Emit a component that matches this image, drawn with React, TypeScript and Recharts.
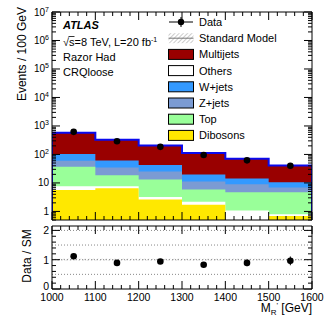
import React from 'react';
import {
  ComposedChart,
  Area,
  Line,
  Scatter,
  XAxis,
  YAxis,
  ErrorBar,
  ReferenceLine,
  ReferenceArea,
  Legend,
} from 'recharts';

const FONT = '"Liberation Sans", Arial, Helvetica, sans-serif';

// ---------- data ----------
const binEdges = [1000, 1100, 1200, 1300, 1400, 1500, 1600];
const binCenters = [1050, 1150, 1250, 1350, 1450, 1550];

const dibosons = [5.6, 6.5, 2.6, 1.7, 0, 0.69];
const others = [2.1, 1.2, 0.6, 0.5, 1.08, 0.11];
const topQuark = [29.3, 10.9, 9.9, 3.7, 3.62, 3.9];
const zJets = [23, 16.4, 11.9, 5.3, 4.3, 2.2];
const wJets = [44, 26, 18, 8.4, 5.2, 3.7];
const multijets = [474, 269, 162, 93.4, 55.8, 30.4];

const dataValues = [620, 290, 185, 96, 62, 40];
const dataErrors = [25, 17, 14, 10, 8, 6.3];
const ratioValues = [1.12, 0.89, 0.94, 0.83, 0.89, 0.96];
const ratioErrors = [0.05, 0.06, 0.07, 0.09, 0.11, 0.15];

const xLabelTicks = [1000, 1100, 1200, 1300, 1400, 1500, 1600];
const yLabelTicks = [1, 10, 100, 1000, 10000, 100000, 1000000, 10000000];
const ratioLabelTicks = [0, 1, 2];
const ratioGridLines = [0.5, 1, 1.5, 2];

const legendNames = ['Data', 'Standard Model', 'Multijets', 'Others', 'W+jets', 'Z+jets', 'Top', 'Dibosons'];

const Y_MIN = 0.5;
const Y_MAX = 1e7;
const R_MIN = 0;
const R_MAX = 2.15;

// bottom -> top stacking order
const stack = [
  { key: 'dibosons', name: 'Dibosons', values: dibosons, color: '#ffe800' },
  { key: 'others', name: 'Others', values: others, color: '#ffffff' },
  { key: 'top', name: 'Top', values: topQuark, color: '#99ff99' },
  { key: 'zjets', name: 'Z+jets', values: zJets, color: '#7b9bd3' },
  { key: 'wjets', name: 'W+jets', values: wJets, color: '#3399ff' },
  { key: 'multijets', name: 'Multijets', values: multijets, color: '#990000' },
];

const cumulative: Record<string, number[]> = {};
let running = binCenters.map(() => 0);
for (const s of stack) {
  running = running.map((r, i) => r + s.values[i]);
  cumulative[s.key] = running;
}
const total = running;
const lastBin = binCenters.length - 1;

const histRows = binEdges.map((edge, i) => {
  const b = Math.min(i, lastBin);
  const row: Record<string, number> = { x: edge };
  for (const s of stack) row[s.key] = Math.max(cumulative[s.key][b], Y_MIN);
  return row;
});

const outlineRows = [
  { x: binEdges[0], y: Y_MIN },
  ...binEdges.map((edge, i) => ({ x: edge, y: total[Math.min(i, lastBin)] })),
  { x: binEdges[binEdges.length - 1], y: Y_MIN },
];

const dataPoints = binCenters.map((x, i) => ({ x, y: dataValues[i], err: dataErrors[i] }));
const ratioPoints = binCenters.map((x, i) => ({ x, y: ratioValues[i], err: ratioErrors[i] }));

// tick positions (axis furniture)
const xTicks: number[] = [];
for (let v = 1000; v <= 1600; v += 20) xTicks.push(v);
const yTicks: number[] = [];
for (let e = -1; e <= 6; e++) {
  for (let m = 1; m <= 9; m++) {
    const v = m * Math.pow(10, e);
    if (v >= Y_MIN - 1e-9) yTicks.push(v);
  }
}
yTicks.push(Y_MAX);
const rTicks: number[] = [];
for (let i = 0; i <= 10; i++) rTicks.push(Math.round(i * 0.2 * 10) / 10);

const isDecade = (v: number) => Math.abs(Math.log10(v) - Math.round(Math.log10(v))) < 1e-6;

// ---------- tick renderers ----------
const makeXTick = (dir: number, withLabels: boolean) => (props: any) => {
  const { x, y, payload } = props;
  const v = Number(payload.value);
  const major = xLabelTicks.includes(v);
  const len = major ? 8 : 4;
  return (
    <g>
      <line x1={x} x2={x} y1={y} y2={y + dir * len} stroke="#000" strokeWidth={1} />
      {withLabels && major ? (
        <text x={x} y={y + 11.5} textAnchor="middle" fontSize={10.5} fontFamily={FONT} fill="#000">
          {v}
        </text>
      ) : null}
    </g>
  );
};

const makeLogYTick = (dir: number, withLabels: boolean) => (props: any) => {
  const { x, y, payload } = props;
  const v = Number(payload.value);
  const major = isDecade(v);
  const len = major ? 8 : 4;
  let label: React.ReactNode = null;
  if (withLabels && major && yLabelTicks.some((t) => Math.abs(t - v) / t < 1e-6)) {
    const exp = Math.round(Math.log10(v));
    label = (
      <text x={x - 3} y={y + 3.5} textAnchor="end" fontSize={10} fontFamily={FONT} fill="#000">
        {exp === 0 ? '1' : exp === 1 ? '10' : (
          <>
            10<tspan dy={-4} fontSize={7}>{exp}</tspan>
          </>
        )}
      </text>
    );
  }
  return (
    <g>
      <line x1={x} x2={x + dir * len} y1={y} y2={y} stroke="#000" strokeWidth={1} />
      {label}
    </g>
  );
};

const makeRatioYTick = (dir: number, withLabels: boolean) => (props: any) => {
  const { x, y, payload } = props;
  const v = Number(payload.value);
  const major = ratioLabelTicks.includes(v);
  const len = major ? 8 : 4;
  const labelY = v === 0 ? y + 1 : y + 4;
  return (
    <g>
      <line x1={x} x2={x + dir * len} y1={y} y2={y} stroke="#000" strokeWidth={1} />
      {withLabels && major ? (
        <text x={x - 3} y={labelY} textAnchor="end" fontSize={10.5} fontFamily={FONT} fill="#000">
          {v}
        </text>
      ) : null}
    </g>
  );
};

const DataDot = (props: any) => {
  const { cx, cy } = props;
  if (cx == null || cy == null) return null;
  return <circle cx={cx} cy={cy} r={3.3} fill="#000" />;
};

const colorOf = (name: string) => stack.find((s) => s.name === name)?.color ?? '#fff';

const renderLegend = () => (
  <svg width={150} height={134} style={{ display: 'block', overflow: 'visible' }}>
    <defs>
      <pattern id="legHatch" width="3" height="3" patternUnits="userSpaceOnUse" patternTransform="rotate(45)">
        <line x1="0" y1="0" x2="0" y2="3" stroke="#9a9a9a" strokeWidth="1" />
      </pattern>
    </defs>
    {legendNames.map((name, i) => {
      const cy = 8 + i * 16.2;
      let icon: React.ReactNode;
      if (name === 'Data') {
        icon = (
          <g>
            <line x1={1} x2={25} y1={cy} y2={cy} stroke="#000" strokeWidth={1} />
            <line x1={13} x2={13} y1={cy - 5} y2={cy + 5} stroke="#000" strokeWidth={1} />
            <circle cx={13} cy={cy} r={3.2} fill="#000" />
          </g>
        );
      } else if (name === 'Standard Model') {
        icon = (
          <g>
            <rect x={0.5} y={cy - 5} width={25} height={10} fill="url(#legHatch)" />
            <line x1={0.5} x2={25.5} y1={cy} y2={cy} stroke="#777" strokeWidth={1} />
          </g>
        );
      } else {
        icon = <rect x={0.5} y={cy - 5} width={25} height={10} fill={colorOf(name)} stroke="#000" strokeWidth={1} />;
      }
      return (
        <g key={name}>
          {icon}
          <text x={31} y={cy + 4} fontSize={11} fontFamily={FONT} fill="#000">
            {name}
          </text>
        </g>
      );
    })}
  </svg>
);

const axisCommon = {
  tickSize: 0,
  tickMargin: 0,
  tickLine: false,
  interval: 0 as const,
  allowDataOverflow: true,
  axisLine: { stroke: '#000', strokeWidth: 1 },
};

export default function App() {
  return (
    <div style={{ position: 'absolute', left: 0, top: 0, width: 332, height: 319, background: '#fff' }}>
      {/* upper panel */}
      <div style={{ position: 'absolute', left: 0, top: 0 }}>
        <ComposedChart
          width={332}
          height={232}
          data={histRows}
          margin={{ top: 11, right: 19, bottom: 11, left: 51 }}
        >
          <XAxis
            {...axisCommon}
            dataKey="x"
            type="number"
            domain={[1000, 1600]}
            ticks={xTicks}
            height={1}
            tick={makeXTick(-1, false)}
          />
          <XAxis
            {...axisCommon}
            xAxisId="top"
            orientation="top"
            dataKey="x"
            type="number"
            domain={[1000, 1600]}
            ticks={xTicks}
            height={1}
            tick={makeXTick(1, false)}
          />
          <YAxis
            {...axisCommon}
            type="number"
            scale="log"
            domain={[Y_MIN, Y_MAX]}
            ticks={yTicks}
            width={1}
            tick={makeLogYTick(1, true)}
          />
          <YAxis
            {...axisCommon}
            yAxisId="right"
            orientation="right"
            type="number"
            scale="log"
            domain={[Y_MIN, Y_MAX]}
            ticks={yTicks}
            width={1}
            tick={makeLogYTick(-1, false)}
          />
          {[...stack].reverse().map((s) => (
            <Area
              key={s.key}
              type="stepAfter"
              dataKey={s.key}
              name={s.name}
              fill={s.color}
              fillOpacity={1}
              stroke="none"
              isAnimationActive={false}
              dot={false}
              activeDot={false}
            />
          ))}
          <Line
            data={outlineRows}
            type="stepAfter"
            dataKey="y"
            stroke="#0a0aee"
            strokeWidth={2}
            dot={false}
            activeDot={false}
            isAnimationActive={false}
          />
          <Scatter data={dataPoints} dataKey="y" shape={DataDot} isAnimationActive={false}>
            <ErrorBar dataKey="err" direction="y" width={0} stroke="#000" strokeWidth={1} />
          </Scatter>
          <Legend
            layout="vertical"
            align="center"
            verticalAlign="middle"
            content={renderLegend}
            wrapperStyle={{ left: 168, top: 13.6, width: 150, height: 134 }}
          />
        </ComposedChart>
      </div>

      {/* ratio panel */}
      <div style={{ position: 'absolute', left: 0, top: 220 }}>
        <ComposedChart width={332} height={99} margin={{ top: 5, right: 19, bottom: 29, left: 51 }}>
          <defs>
            <pattern id="ratioHatch" width="3" height="3" patternUnits="userSpaceOnUse" patternTransform="rotate(45)">
              <line x1="0" y1="0" x2="0" y2="3" stroke="#9a9a9a" strokeWidth="1" />
            </pattern>
          </defs>
          <XAxis
            {...axisCommon}
            dataKey="x"
            type="number"
            domain={[1000, 1600]}
            ticks={xTicks}
            height={1}
            tick={makeXTick(-1, true)}
          />
          <XAxis
            {...axisCommon}
            xAxisId="top"
            orientation="top"
            dataKey="x"
            type="number"
            domain={[1000, 1600]}
            ticks={xTicks}
            height={1}
            tick={makeXTick(1, false)}
          />
          <YAxis
            {...axisCommon}
            type="number"
            domain={[R_MIN, R_MAX]}
            ticks={rTicks}
            width={1}
            tick={makeRatioYTick(1, true)}
          />
          <YAxis
            {...axisCommon}
            yAxisId="right"
            orientation="right"
            type="number"
            domain={[R_MIN, R_MAX]}
            ticks={rTicks}
            width={1}
            tick={makeRatioYTick(-1, false)}
          />
          <ReferenceArea x1={1000} x2={1600} y1={0.97} y2={1.03} fill="url(#ratioHatch)" fillOpacity={1} stroke="none" />
          {ratioGridLines.map((g) => (
            <ReferenceLine key={g} y={g} stroke="#888" strokeWidth={1} strokeDasharray="1 2" />
          ))}
          <Scatter data={ratioPoints} dataKey="y" shape={DataDot} isAnimationActive={false}>
            <ErrorBar dataKey="err" direction="y" width={0} stroke="#000" strokeWidth={1} />
          </Scatter>
        </ComposedChart>
      </div>

      {/* annotations */}
      <svg
        width={332}
        height={319}
        style={{ position: 'absolute', left: 0, top: 0, pointerEvents: 'none' }}
      >
        <text transform="rotate(-90)" x={-7} y={26} textAnchor="end" fontSize={12} fontFamily={FONT} fill="#000">
          Events / 100 GeV
        </text>
        <text transform="rotate(-90)" x={-256} y={31} textAnchor="middle" fontSize={12} fontFamily={FONT} fill="#000">
          Data / SM
        </text>
        <text x={312} y={312} textAnchor="end" fontSize={12} fontFamily={FONT} fill="#000">
          M<tspan dy={2.5} fontSize={8}>R</tspan>
          <tspan dy={-6.5} fontSize={8}>'</tspan>
          <tspan dy={4}> [GeV]</tspan>
        </text>
        <text x={63} y={29} fontSize={11} fontWeight="bold" fontStyle="italic" fontFamily={FONT} fill="#000">
          ATLAS
        </text>
        <text x={63} y={46} fontSize={11} fontFamily={FONT} fill="#000">
          √s=8 TeV, L=20 fb<tspan dy={-4} fontSize={7}>-1</tspan>
        </text>
        <line x1={68.5} x2={74.5} y1={36.5} y2={36.5} stroke="#000" strokeWidth={0.8} />
        <text x={63} y={61} fontSize={11} fontFamily={FONT} fill="#000">
          Razor Had
        </text>
        <text x={63} y={75.5} fontSize={11} fontFamily={FONT} fill="#000">
          CRQloose
        </text>
      </svg>
    </div>
  );
}
